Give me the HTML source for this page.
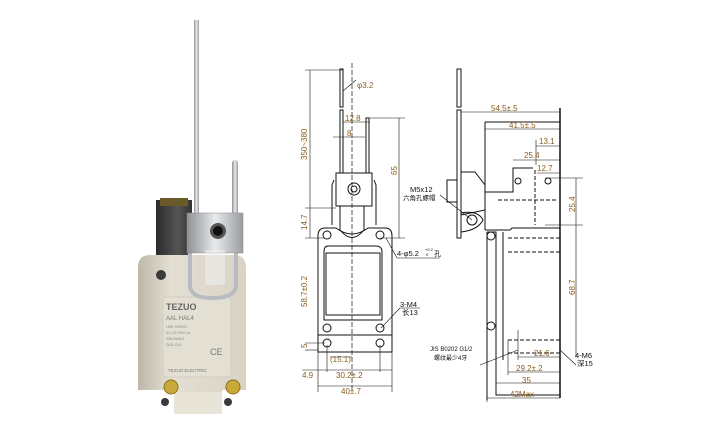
<!DOCTYPE html>
<html><head><meta charset="utf-8"><style>
html,body{margin:0;padding:0;background:#fff;}
svg{display:block;}
text{font-family:"Liberation Sans","Noto Sans CJK SC",sans-serif;}
</style></head><body>
<svg width="718" height="431" viewBox="0 0 718 431" xmlns="http://www.w3.org/2000/svg">
<defs>
<linearGradient id="bd" x1="0" x2="1"><stop offset="0" stop-color="#bdb7a8"/><stop offset="0.3" stop-color="#e3dfd2"/><stop offset="1" stop-color="#d8d3c5"/></linearGradient>
<linearGradient id="mt" x1="0" x2="1"><stop offset="0" stop-color="#8d9094"/><stop offset="0.5" stop-color="#e8eaec"/><stop offset="1" stop-color="#9a9da0"/></linearGradient>
<linearGradient id="bk" x1="0" x2="1"><stop offset="0" stop-color="#2a2a2a"/><stop offset="0.6" stop-color="#555"/><stop offset="1" stop-color="#333"/></linearGradient>
</defs>
<!-- PHOTO -->
<rect x="194" y="20" width="5" height="200" fill="url(#mt)"/>
<rect x="156" y="200" width="36" height="62" fill="url(#bk)"/>
<rect x="160" y="198" width="28" height="8" fill="#6a5a2a"/>
<path d="M138 268 Q138 255 150 255 L234 255 Q246 255 246 268 L246 390 L222 390 L222 414 L174 414 L174 390 L138 390 Z" fill="url(#bd)"/>
<rect x="163" y="297" width="68" height="80" rx="4" fill="#e3dfd3" stroke="#d3cebe"/>
<circle cx="161" cy="275" r="5" fill="#3a3a3a"/>
<circle cx="165" cy="402" r="4" fill="#3a3a3a"/>
<circle cx="228" cy="402" r="4" fill="#3a3a3a"/>
<rect x="174" y="392" width="48" height="22" fill="#e8e4d8"/>
<circle cx="171" cy="387" r="7" fill="#c9a93a" stroke="#8b6f1c"/>
<circle cx="233" cy="387" r="7" fill="#c9a93a" stroke="#8b6f1c"/>
<path d="M190 240 L190 285 Q190 298 212 298 Q236 298 236 285 L236 240" fill="none" stroke="#b8bcc0" stroke-width="4"/>
<rect x="232" y="160" width="6" height="60" rx="3" fill="url(#mt)"/>
<rect x="187" y="213" width="56" height="40" fill="url(#mt)" stroke="#888" stroke-width="0.5"/>
<circle cx="218" cy="231" r="8" fill="#555"/>
<circle cx="218" cy="231" r="5" fill="#111"/>
<rect x="205" y="250" width="20" height="35" fill="#eee" opacity="0.6"/>
<text x="166" y="310" font-size="9" font-weight="bold" fill="#666">TEZUO</text>
<text x="166" y="320" font-size="6" fill="#777">AAL HAL4</text>
<text x="166" y="328" font-size="3.5" fill="#888">LMS  YW0021</text>
<text x="166" y="334" font-size="3.5" fill="#888">AC-15 240V 1A</text>
<text x="166" y="340" font-size="3.5" fill="#888">GB14048.5</text>
<text x="166" y="346" font-size="3.5" fill="#888">Q/01-CHL</text>
<text x="210" y="355" font-size="9" fill="#777">CE</text>
<text x="168" y="372" font-size="4.5" fill="#777">TEZUO ELECTRIC</text>
<g stroke="#111" stroke-width="1" fill="none">
<!-- FRONT VIEW -->
<line x1="352" y1="63" x2="352" y2="390" stroke-dasharray="5,2" stroke-width="0.7"/>
<rect x="340" y="69" width="3" height="38"/><rect x="340" y="110" width="3" height="63"/>
<rect x="366" y="118" width="3" height="55"/>
<rect x="336" y="173" width="36" height="33"/>
<circle cx="354" cy="189" r="6"/><circle cx="354" cy="189" r="3"/>
<path d="M334 180 L332 185 L332 225 M374 180 L376 185 L376 225"/>
<path d="M340 206 L340 230 Q352 245 364 230 L364 206"/>
<path d="M325 228 L336 228 Q352 240 368 228 L385 228 Q392 228 392 236 L392 352 L318 352 L318 236 Q318 228 325 228 Z"/>
<path d="M328 246 L376 246 Q382 246 382 252 L382 320 L324 320 L324 252 Q324 246 328 246 Z"/>
<rect x="326" y="253" width="54" height="62"/>
<circle cx="327" cy="235" r="4"/><circle cx="380" cy="235" r="4"/>
<circle cx="327" cy="328" r="4"/><circle cx="380" cy="328" r="4"/>
<circle cx="327" cy="343" r="4"/><circle cx="380" cy="343" r="4"/>
<line x1="318" y1="335" x2="392" y2="335"/>
<!-- front dims -->
<g stroke-width="0.6">
<line x1="310" y1="70" x2="310" y2="238"/>
<line x1="305" y1="70" x2="343" y2="70"/>
<line x1="305" y1="208" x2="336" y2="208"/>
<line x1="305" y1="238" x2="325" y2="238"/>
<line x1="305" y1="343" x2="325" y2="343"/>
<line x1="305" y1="350" x2="318" y2="350"/>
<line x1="368" y1="118" x2="405" y2="118"/>
<line x1="399" y1="118" x2="399" y2="238"/>
<line x1="380" y1="238" x2="405" y2="238"/>
<line x1="343" y1="122" x2="370" y2="122"/>
<line x1="333" y1="137" x2="365" y2="137"/>
<line x1="343" y1="91" x2="356" y2="80"/>
<line x1="330" y1="357" x2="352" y2="357"/>
<line x1="302" y1="370" x2="392" y2="370"/>
<line x1="318" y1="352" x2="318" y2="392"/>
<line x1="327" y1="345" x2="327" y2="372"/>
<line x1="380" y1="345" x2="380" y2="372"/>
<line x1="392" y1="352" x2="392" y2="392"/>
<line x1="318" y1="386" x2="392" y2="386"/>
<line x1="397" y1="258" x2="440" y2="258"/>
<line x1="397" y1="258" x2="386" y2="238"/>
<line x1="400" y1="308" x2="420" y2="308"/>
<line x1="400" y1="308" x2="381" y2="328"/>
</g>
<!-- SIDE VIEW -->
<rect x="457" y="69" width="4" height="38"/><rect x="457" y="110" width="4" height="128"/>
<rect x="447" y="180" width="10" height="22"/>
<path d="M461 172 L475 172 L485 185 L485 210 L461 215"/>
<circle cx="472" cy="220" r="5"/>
<path d="M461 213 Q478 210 483 220 Q478 230 461 232"/>
<line x1="485" y1="122" x2="485" y2="230"/>
<line x1="485" y1="122" x2="560" y2="122"/>
<path d="M485 192 L513 192 L513 168 L533 168"/>
<path d="M485 230 L510 230 L512 228 L560 228"/>
<path d="M487 232 L496 232 L496 395 L560 395"/>
<line x1="560" y1="108" x2="560" y2="398" stroke-width="1.5"/>
<line x1="503" y1="232" x2="503" y2="360"/>
<line x1="487" y1="232" x2="487" y2="400"/>
<path d="M535 170 L535 225 M498 200 L556 200" stroke-dasharray="4,2"/>
<path d="M508 238 L560 238 M508 252 L560 252 M508 340 L560 340 M508 353 L560 353" stroke-dasharray="4,2"/>
<circle cx="518" cy="181" r="3"/><circle cx="548" cy="181" r="3"/>
<circle cx="491" cy="236" r="4"/><circle cx="491" cy="326" r="4"/>
<!-- side dims -->
<g stroke-width="0.6">
<line x1="461" y1="112" x2="560" y2="112"/>
<line x1="485" y1="129" x2="560" y2="129"/>
<line x1="536" y1="146" x2="560" y2="146"/><line x1="536" y1="140" x2="536" y2="165"/>
<line x1="513" y1="160" x2="560" y2="160"/>
<line x1="537" y1="173" x2="560" y2="173"/>
<line x1="545" y1="178" x2="583" y2="178"/>
<line x1="545" y1="225" x2="583" y2="225"/>
<line x1="576" y1="178" x2="576" y2="357"/>
<line x1="518" y1="357" x2="560" y2="357"/>
<line x1="518" y1="330" x2="518" y2="360"/>
<line x1="508" y1="372" x2="560" y2="372"/><line x1="508" y1="340" x2="508" y2="375"/>
<line x1="496" y1="383" x2="560" y2="383"/>
<line x1="487" y1="398" x2="560" y2="398"/><line x1="487" y1="380" x2="487" y2="402"/>
<line x1="560" y1="350" x2="576" y2="365"/>
<line x1="440" y1="195" x2="472" y2="220"/>
<line x1="480" y1="365" x2="518" y2="350"/>
</g>
</g>
<g fill="#8a5c1c" font-size="8">
<text x="357" y="88">φ3.2</text>
<text x="345" y="121">12.8</text>
<text x="347" y="136">8</text>
<text transform="translate(307,160) rotate(-90)">350~380</text>
<text transform="translate(397,175) rotate(-90)">65</text>
<text transform="translate(307,230) rotate(-90)">14.7</text>
<text transform="translate(307,307) rotate(-90)">58.7±0.2</text>
<text transform="translate(307,348) rotate(-90)">5</text>
<text x="330" y="362">(15.1)</text>
<text x="302" y="378">4.9</text>
<text x="336" y="378">30.2±.2</text>
<text x="341" y="394">40±.7</text>
<text x="491" y="111">54.5±.5</text>
<text x="509" y="128">41.5±.5</text>
<text x="539" y="144">13.1</text>
<text x="524" y="158">25.4</text>
<text x="537" y="171">12.7</text>
<text transform="translate(575,212) rotate(-90)">25.4</text>
<text transform="translate(575,295) rotate(-90)">68.7</text>
<text x="534" y="356">21.6</text>
<text x="516" y="371">29.2±.2</text>
<text x="522" y="383">35</text>
<text x="510" y="397">42Max</text>
</g>
<g fill="#111">
<text x="410" y="192" font-size="7.5">M5x12</text>
<text x="403" y="200" font-size="6.5">六角孔螺帽</text>
<text x="397" y="256" font-size="7.5">4-φ5.2</text><text x="425" y="251" font-size="4">+0.2</text><text x="426" y="256" font-size="4">0</text><text x="434" y="256" font-size="7">孔</text>
<text x="400" y="307" font-size="7.5">3-M4</text>
<text x="402" y="315" font-size="7.5">长13</text>
<text x="430" y="351" font-size="6">JIS B0202 G1/2</text>
<text x="434" y="360" font-size="6">螺纹最少4牙</text>
<text x="575" y="358" font-size="7.5">4-M6</text>
<text x="577" y="366" font-size="7.5">深15</text>
</g>
</svg>
</body></html>
